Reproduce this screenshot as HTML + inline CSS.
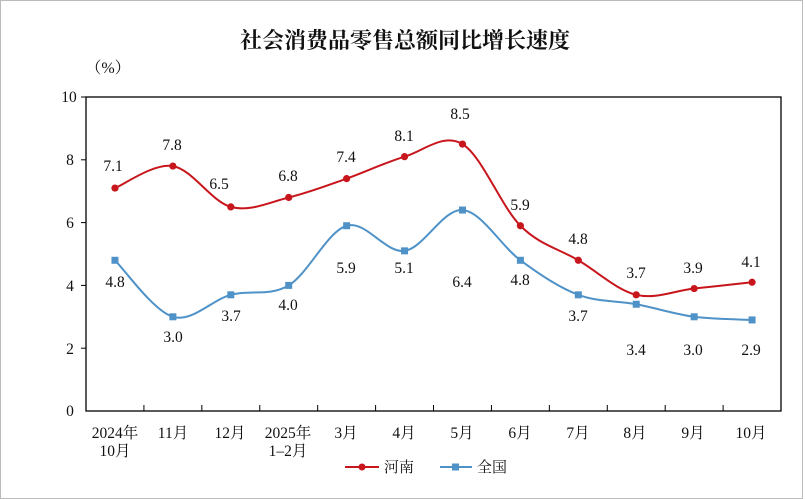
<!DOCTYPE html>
<html><head><meta charset="utf-8"><style>
html,body{margin:0;padding:0;background:#fff}
svg{display:block}
text{font-family:"Liberation Serif","Noto Serif CJK SC",serif;fill:#111}
</style></head><body>
<svg id="s" width="805" height="499" viewBox="0 0 805 499" xmlns="http://www.w3.org/2000/svg">
<rect x="0.5" y="0.5" width="802" height="498" fill="#fff" stroke="#bbb"/>
<text x="405" y="48" text-anchor="middle" font-size="22" font-weight="bold">社会消费品零售总额同比增长速度</text>
<text x="108" y="73" text-anchor="middle" font-size="16">（%）</text>
<rect x="86" y="97" width="695" height="314" fill="none" stroke="#000" stroke-width="1.3"/>
<g id="g"></g>
<g font-size="15.5" text-anchor="middle">
<text x="69" y="102">10</text><text x="70" y="165">8</text><text x="70" y="228">6</text><text x="70" y="291">4</text><text x="70" y="354">2</text><text x="70" y="416">0</text>
<text x="115" y="438">2024年</text><text x="115" y="456">10月</text>
<text x="173" y="438">11月</text><text x="230" y="438">12月</text>
<text x="288" y="438">2025年</text><text x="288" y="456">1–2月</text>
<text x="346" y="438">3月</text><text x="404" y="438">4月</text><text x="462" y="438">5月</text><text x="520" y="438">6月</text>
<text x="578" y="438">7月</text><text x="635" y="438">8月</text><text x="693" y="438">9月</text><text x="751" y="438">10月</text>
</g>
<g font-size="15.5" text-anchor="middle">
<text x="113" y="171">7.1</text><text x="172" y="150">7.8</text><text x="219" y="189">6.5</text><text x="288" y="181">6.8</text>
<text x="346" y="162">7.4</text><text x="404" y="141">8.1</text><text x="460" y="119">8.5</text><text x="520" y="210">5.9</text>
<text x="578" y="244">4.8</text><text x="636" y="278">3.7</text><text x="693" y="273">3.9</text><text x="751" y="267">4.1</text>
<text x="115" y="287">4.8</text><text x="173" y="342">3.0</text><text x="231" y="321">3.7</text><text x="288" y="310">4.0</text>
<text x="346" y="273">5.9</text><text x="404" y="273">5.1</text><text x="462" y="287">6.4</text><text x="520" y="285">4.8</text>
<text x="578" y="321">3.7</text><text x="636" y="355">3.4</text><text x="693" y="355">3.0</text><text x="751" y="355">2.9</text>
</g>
<line x1="345" y1="467" x2="379" y2="467" stroke="#c8161d" stroke-width="2"/><circle cx="362" cy="467" r="3.5" fill="#c8161d"/>
<text x="384" y="472" font-size="15">河南</text>
<line x1="440" y1="467" x2="472" y2="467" stroke="#4f92c8" stroke-width="2"/><rect x="452" y="463.5" width="7" height="7" fill="#4f92c8"/>
<text x="477" y="472" font-size="15">全国</text>
</svg>
<script>
var g=document.getElementById('g');
function X(i){return 86+28.96+i*57.92}function Y(v){return 411-v*31.4}
var h='';
for(var v=2;v<=10;v+=2){h+='<line x1="81" x2="86" y1="'+Y(v)+'" y2="'+Y(v)+'" stroke="#000"/>';}
for(var i=1;i<12;i++){var x=86+i*57.92;h+='<line x1="'+x+'" x2="'+x+'" y1="405" y2="411" stroke="#000"/>';}
function path(d,c){var p=d.map(function(v,i){return[X(i),Y(v)]});var s='M'+p[0];
for(var i=0;i<p.length-1;i++){var a=p[i-1]||p[i],b=p[i],c2=p[i+1],e=p[i+2]||c2;
s+=' C'+(b[0]+(c2[0]-a[0])/6)+','+(b[1]+(c2[1]-a[1])/6)+' '+(c2[0]-(e[0]-b[0])/6)+','+(c2[1]-(e[1]-b[1])/6)+' '+c2;}
return '<path d="'+s+'" fill="none" stroke="'+c+'" stroke-width="2"/>';}
var r=[7.1,7.8,6.5,6.8,7.4,8.1,8.5,5.9,4.8,3.7,3.9,4.1],b=[4.8,3.0,3.7,4.0,5.9,5.1,6.4,4.8,3.7,3.4,3.0,2.9];
h+=path(b,'#4f92c8')+path(r,'#c8161d');
b.forEach(function(v,i){h+='<rect x="'+(X(i)-3.5)+'" y="'+(Y(v)-3.5)+'" width="7" height="7" fill="#4f92c8"/>'});
r.forEach(function(v,i){h+='<circle cx="'+X(i)+'" cy="'+Y(v)+'" r="3.6" fill="#c8161d"/>'});
g.innerHTML=h;
</script>
</body></html>
